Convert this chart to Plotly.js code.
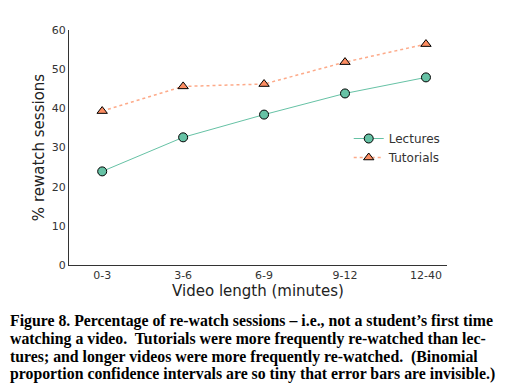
<!DOCTYPE html>
<html>
<head>
<meta charset="utf-8">
<script src="https://cdn.plot.ly/plotly-3.0.1.min.js"></script>
<style>
html,body{margin:0;padding:0;background:#fff;}
#chart{width:506px;height:392px;}
</style>
</head>
<body>
<div id="chart"></div>
<script>
var categories = ["0-3", "3-6", "6-9", "9-12", "12-40"];
var lectures = [23.9, 32.6, 38.4, 43.8, 47.9];
var tutorials = [39.3, 45.6, 46.2, 51.8, 56.4];
var yTicks = [0, 10, 20, 30, 40, 50, 60];
var captionLines = [
  "Figure 8. Percentage of re-watch sessions \u2013 i.e., not a student\u2019s first time",
  "watching a video.  Tutorials were more frequently re-watched than lec-",
  "tures; and longer videos were more frequently re-watched.  (Binomial",
  "proportion confidence intervals are so tiny that error bars are invisible.)"
];

var xIdx = categories.map(function(c, i){ return i; });

var traces = [
  {
    x: xIdx, y: lectures, name: "Lectures", type: "scatter", mode: "lines+markers",
    line: {color: "#66c2a5", width: 1},
    marker: {symbol: "circle", size: 9, color: "#66c2a5", line: {color: "#000", width: 1}}
  },
  {
    x: xIdx, y: tutorials, name: "Tutorials", type: "scatter", mode: "lines+markers",
    line: {color: "rgba(252,141,98,0.75)", width: 1.5, dash: "dot"},
    marker: {symbol: "triangle-up", size: 9, color: "#fc8d62", line: {color: "#000", width: 1}}
  }
];

var annotations = captionLines.map(function(t, i){
  return {
    text: "<b>" + t + "</b>", xref: "paper", yref: "paper",
    x: 0, y: 0, xanchor: "left", yanchor: "middle",
    showarrow: false, align: "left",
    font: {family: "Liberation Serif", size: 15.8, color: "#000"}
  };
});

var layout = {
  width: 506, height: 392,
  margin: {l: 69, r: 59, t: 30, b: 127},
  paper_bgcolor: "#fff", plot_bgcolor: "#fff",
  showlegend: true,
  legend: {
    x: 0.74, y: 0.6, xanchor: "left", yanchor: "top",
    bgcolor: "rgba(0,0,0,0)",
    font: {family: "DejaVu Sans", size: 12, color: "#333"},
    itemwidth: 30, tracegroupgap: 0
  },
  xaxis: {
    range: [-0.41, 4.26],
    tickmode: "array", tickvals: xIdx, ticktext: categories,
    showgrid: false, zeroline: false, showline: true, linecolor: "#333", linewidth: 1,
    ticks: "", tickfont: {family: "DejaVu Sans", size: 11, color: "#333"},
    title: {text: "Video length (minutes)", font: {family: "DejaVu Sans", size: 15, color: "#222"}, standoff: 4}
  },
  yaxis: {
    range: [0, 60],
    tickmode: "array", tickvals: yTicks,
    showgrid: false, zeroline: false, showline: true, linecolor: "#333", linewidth: 1,
    ticks: "", tickfont: {family: "DejaVu Sans", size: 11, color: "#333"},
    title: {text: "% rewatch sessions", font: {family: "DejaVu Sans", size: 15, color: "#222"}, standoff: 3}
  },
  annotations: annotations
};

var plotTop = 30, plotH = 235;
var lineY = [321, 339, 357, 374];
layout.annotations.forEach(function(a, i){
  a.y = (plotTop + plotH - lineY[i]) / plotH;
  a.x = (8 - 69) / 378;
});

Plotly.newPlot("chart", traces, layout, {staticPlot: true});
</script>
</body>
</html>
